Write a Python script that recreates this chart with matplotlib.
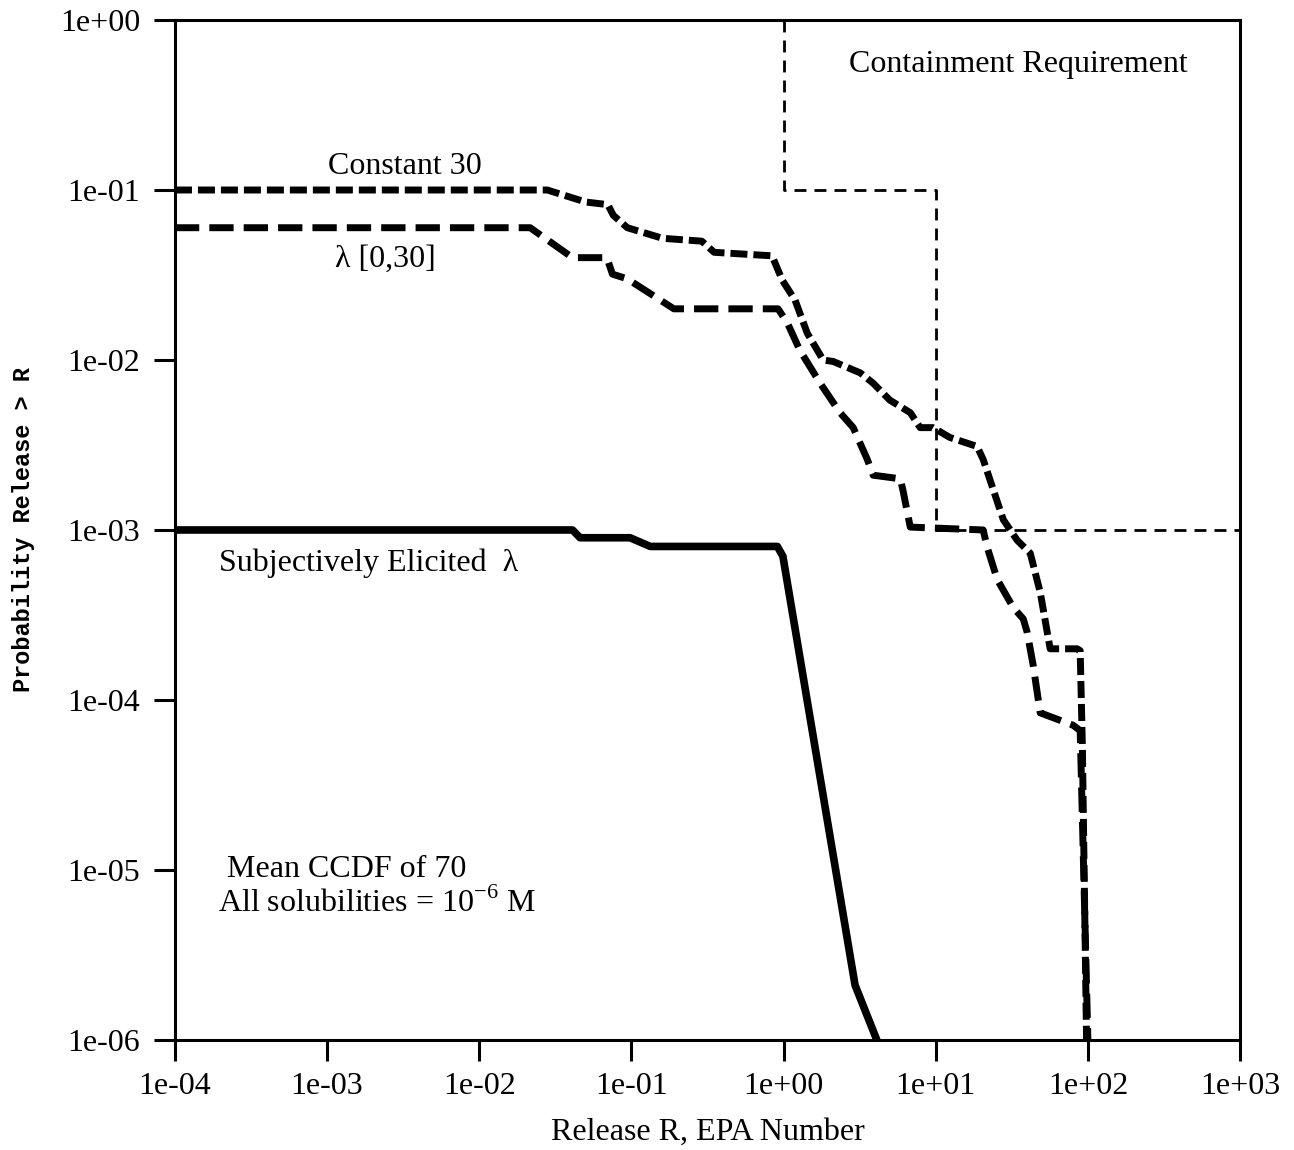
import matplotlib
matplotlib.use("Agg")
import matplotlib.pyplot as plt

# Mean CCDF curves
const30_x = [1e-4, 0.028, 0.05, 0.07, 0.076, 0.094, 0.16, 0.29, 0.35, 0.84, 0.98, 1.19,
             1.43, 1.82, 2.12, 3.19, 3.88, 5.0, 6.8, 7.9, 9.6, 12.4, 18.7, 20.5, 27.8,
             34.3, 41.8, 48.6, 56.5, 85, 89, 92, 98]
const30_y = [0.1, 0.1, 0.085, 0.082, 0.071, 0.06, 0.052, 0.05, 0.043, 0.041, 0.0295, 0.0225,
             0.0144, 0.010, 0.0098, 0.0084, 0.0073, 0.0058, 0.0049, 0.0040, 0.0040, 0.0035,
             0.0031, 0.0026, 0.00115, 0.00087, 0.00073, 0.00043, 0.0002, 0.0002, 0.000195,
             5.3e-5, 1e-6]

lam_x = [1e-4, 0.0216, 0.041, 0.069, 0.075, 0.094, 0.19, 0.92, 1.06, 1.28, 1.74, 2.35,
         2.87, 3.55, 3.88, 5.85, 6.1, 6.8, 20.5, 21.8, 25.4, 32.3, 37.6, 39.9, 43.7, 48.6,
         80, 89, 100]
lam_y = [0.06, 0.06, 0.04, 0.04, 0.032, 0.03, 0.02, 0.02, 0.0165, 0.0114, 0.0073, 0.0049,
         0.0040, 0.0026, 0.0021, 0.0020, 0.0017, 0.00104, 0.001, 0.00079, 0.00051, 0.00035,
         0.0003, 0.00025, 0.00016, 8.4e-5, 7.1e-5, 6.6e-5, 1e-6]

subj_x = [1e-4, 0.041, 0.046, 0.098, 0.133, 0.91, 0.99, 2.95, 4.1]
subj_y = [1e-3, 1e-3, 0.0009, 0.0009, 0.0008, 0.0008, 0.0007, 2.1e-6, 1e-6]

contain_x = [1, 1, 10, 10, 1000]
contain_y = [1, 0.1, 0.1, 1e-3, 1e-3]

xticks = [1e-4, 1e-3, 1e-2, 1e-1, 1e0, 1e1, 1e2, 1e3]
xticklabels = ["1e-04", "1e-03", "1e-02", "1e-01", "1e+00", "1e+01", "1e+02", "1e+03"]
yticks = [1e-6, 1e-5, 1e-4, 1e-3, 1e-2, 1e-1, 1e0]
yticklabels = ["1e-06", "1e-05", "1e-04", "1e-03", "1e-02", "1e-01", "1e+00"]

plt.rcParams['font.family'] = ['Liberation Serif', 'DejaVu Serif']

fig = plt.figure(figsize=(12.94, 11.5), dpi=100)
ax = fig.add_axes([0.1352, 0.0957, 0.8231, 0.8869])

ax.plot(contain_x, contain_y, color='black', lw=2, linestyle=(0, (4.3, 2.9)))
ax.plot(const30_x, const30_y, color='black', lw=5, linestyle=(0, (2.45, 0.86)))
ax.plot(lam_x, lam_y, color='black', lw=5, linestyle=(0, (3.5, 1.45)))
ax.plot(subj_x, subj_y, color='black', lw=5.5, solid_joinstyle='round')

ax.set_xscale('log')
ax.set_yscale('log')
ax.set_xlim(1e-4, 1e3)
ax.set_ylim(1e-6, 1)
ax.minorticks_off()
ax.set_xticks(xticks)
ax.set_xticklabels(xticklabels)
ax.set_yticks(yticks)
ax.set_yticklabels(yticklabels)
ax.tick_params(direction='out', length=15, width=2.2, labelsize=23)
ax.tick_params(axis='x', pad=8)
ax.tick_params(axis='y', pad=10)
for s in ax.spines.values():
    s.set_linewidth(2.2)

ax.set_xlabel('Release R, EPA Number', fontsize=23, labelpad=12)
ax.set_ylabel('Probability Release > R', fontsize=17, family=['Liberation Mono'],
              fontweight='bold')
ax.yaxis.set_label_coords(-0.131, 0.5)

fs = 23
ax.text(34.8, 0.55, 'Containment Requirement', fontsize=fs, ha='center', va='center')
ax.text(0.00325, 0.138, 'Constant 30', fontsize=fs, ha='center', va='center')
ax.text(0.0024, 0.039, 'λ [0,30]', fontsize=fs, ha='center', va='center')
ax.text(0.00186, 0.00064, 'Subjectively Elicited  λ', fontsize=fs, ha='center', va='center')
ax.text(2.2e-4, 1e-5, 'Mean CCDF of 70', fontsize=fs, ha='left', va='center')
ax.text(1.92e-4, 6.4e-6, r'All solubilities = 10$^{\mathregular{-6}}$ M', fontsize=fs,
        ha='left', va='center')

fig.savefig('out.png', dpi=100)
